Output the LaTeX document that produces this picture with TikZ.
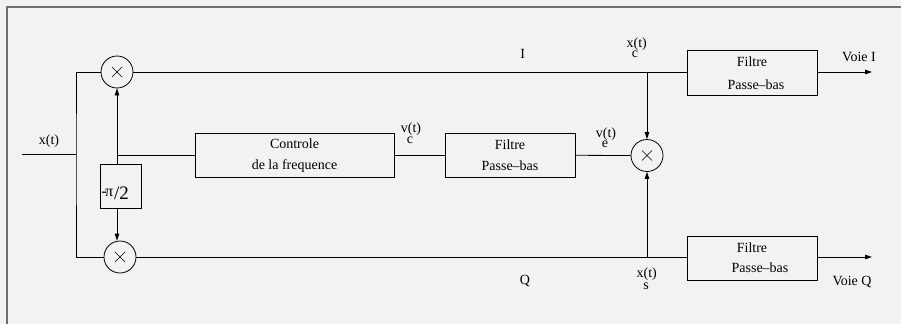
\documentclass[tikz,border=0pt]{standalone}
\usepackage{fontspec}
\setmainfont{Liberation Serif}
\usetikzlibrary{arrows.meta,calc}
\definecolor{bgc}{HTML}{F2F2F2}
\definecolor{framec}{HTML}{707070}
\tikzset{
  wire/.style={line width=0.8pt,black},
  arr/.style={wire,-{Triangle[length=7pt,width=4.5pt]}},
  blk/.style={draw,line width=0.8pt,rectangle,inner sep=0pt,align=center,
    font=\fontsize{14}{21}\selectfont},
  mult/.style={draw,line width=0.8pt,circle,minimum size=32pt,inner sep=0pt,
    path picture={
      \draw[line width=0.6pt] ([shift={(-5pt,-5pt)}]path picture bounding box.center) -- ([shift={(5pt,5pt)}]path picture bounding box.center);
      \draw[line width=0.6pt] ([shift={(-5pt,5pt)}]path picture bounding box.center) -- ([shift={(5pt,-5pt)}]path picture bounding box.center);
    }},
  lbl/.style={anchor=base,inner sep=0pt,font=\fontsize{14}{16}\selectfont},
}
\begin{document}
\begin{tikzpicture}[x=1pt,y=-1pt]
\useasboundingbox (0,0) rectangle (901,324);
\fill[bgc] (0,0) rectangle (901,324);
\draw[framec,line width=2pt] (7,324) -- (7,7) -- (901,7);

% blocks
\node[mult] (mulI) at (117,72) {};
\node[mult] (mulQ) at (120,257) {};
\node[blk,minimum width=41pt,minimum height=44pt] (phase) at (120.8,186) {};
\node[lbl,anchor=base west,font=\fontsize{16}{18}\selectfont] (phtxt) at (101.5,196.5) {-\kern-2ptπ\kern1pt\raisebox{-3pt}{\fontsize{19}{20}\selectfont/2}};
\node[blk,minimum width=199pt,minimum height=44pt] (ctrl) at (294.5,155.3) {Controle\\de la frequence};
\node[blk,minimum width=130pt,minimum height=44pt] (filt) at (510,155.3) {Filtre\\Passe\textendash bas};
\node[mult] (mulE) at (647,155.5) {};
\node[blk,minimum width=130pt,minimum height=45pt,font=\fontsize{14}{23}\selectfont] (filtI) at (752,73.3) {Filtre\\\hspace*{8pt}Passe\textendash bas};
\node[blk,minimum width=130pt,minimum height=44pt,font=\fontsize{14}{20}\selectfont] (filtQ) at (752,258) {Filtre\\\hspace*{16pt}Passe\textendash bas};

% coordinates
\coordinate (in) at (22,154.5);
\coordinate (jL) at (76,154.5);
\coordinate (outI) at (872,72);
\coordinate (outQ) at (872,257);

% wires
\draw[wire] (in) -- (jL);
\draw[wire] (mulI.west) -| (jL) |- (mulQ.west);
\draw[arr] (phase.north -| mulI) -- (mulI.south);
\draw[arr] (phase.south -| mulI) -- (mulQ.north -| mulI);
\draw[wire] (mulI |- ctrl.west) -- (ctrl.west);
\draw[wire] (ctrl.east) -- (filt.west);
\draw[wire] (filt.east) -- (mulE.west);
\draw[wire] (mulI.east) -- (mulI.east -| filtI.west);
\draw[wire] (mulQ.east) -- (mulQ.east -| filtQ.west);
\draw[arr] (mulE |- mulI) -- (mulE.north);
\draw[arr] (mulE |- mulQ) -- (mulE.south);
\draw[arr] (outI -| filtI.east) -- (outI);
\draw[arr] (outQ -| filtQ.east) -- (outQ);

% labels
\node[lbl] (xin) at (49,144) {x(t)};
\node[lbl] (lI) at (522.7,58.3) {I};
\node[lbl] (lQ) at (525,284.5) {Q};
\node[lbl] (xc) at (636.7,47.5) {x(t)};
\node[lbl] (xcs) at (635,57.5) {c};
\node[lbl] (ve) at (606,137) {v(t)};
\node[lbl] (ves) at (605,147) {e};
\node[lbl] (vc) at (411,132.5) {v(t)};
\node[lbl] (vcs) at (410,143.5) {c};
\node[lbl] (xs) at (646.7,277.5) {x(t)};
\node[lbl] (xss) at (646,289) {s};
\node[lbl] (voieI) at (859,61.7) {Voie I};
\node[lbl] (voieQ) at (852,285) {Voie Q};
\end{tikzpicture}
\end{document}
